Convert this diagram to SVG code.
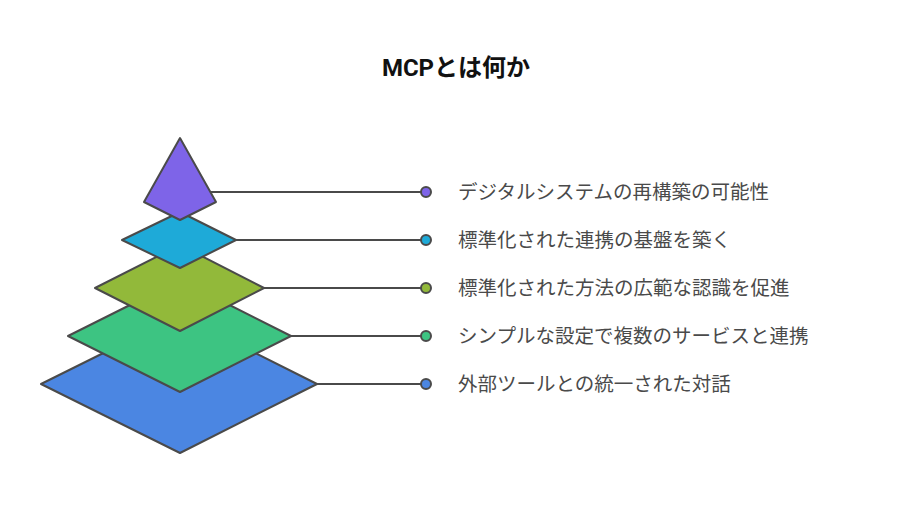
<svg xmlns="http://www.w3.org/2000/svg" width="912" height="516" viewBox="0 0 912 516">
<style>
.s{stroke:#4a4a4a;stroke-width:2;stroke-linejoin:round}
.l{stroke:#4a4a4a;stroke-width:2;fill:none}
.t{font-family:"Noto Sans CJK JP","Noto Sans",sans-serif;font-size:19.5px;fill:#4a4a4a}
</style>
<rect width="912" height="516" fill="#fff"/>
<text x="456" y="76" text-anchor="middle" font-family="Roboto,'Noto Sans CJK JP',sans-serif" font-weight="bold" font-size="24" fill="#111">MCPとは何か</text>
<g id="connectors">
<path class="l" d="M211 192H426M236 240H426M264 288H426M291 336H426M317 384H426"/>
</g>
<g id="layer5"><polygon class="s" fill="#4b86e2" points="180,315 317,384 180,453 41,384"/><circle cx="426" cy="384" r="5" class="s" fill="#4b86e2"/><text class="t" x="458" y="391">外部ツールとの統一された対話</text></g>
<g id="layer4"><polygon class="s" fill="#3dc482" points="180,280 291,336 180,392 68,336"/><circle cx="426" cy="336" r="5" class="s" fill="#3dc482"/><text class="t" x="458" y="343">シンプルな設定で複数のサービスと連携</text></g>
<g id="layer3"><polygon class="s" fill="#92b93a" points="180,245 264,288 180,331 95,288"/><circle cx="426" cy="288" r="5" class="s" fill="#92b93a"/><text class="t" x="458" y="295">標準化された方法の広範な認識を促進</text></g>
<g id="layer2"><polygon class="s" fill="#1eaad8" points="180,212 236,240 180,268 122,240"/><circle cx="426" cy="240" r="5" class="s" fill="#1eaad8"/><text class="t" x="458" y="247">標準化された連携の基盤を築く</text></g>
<g id="layer1"><polygon class="s" fill="#7e64e8" points="180,138 216,202 180,220 144,202"/><circle cx="426" cy="192" r="5" class="s" fill="#7e64e8"/><text class="t" x="458" y="199">デジタルシステムの再構築の可能性</text></g>
</svg>
